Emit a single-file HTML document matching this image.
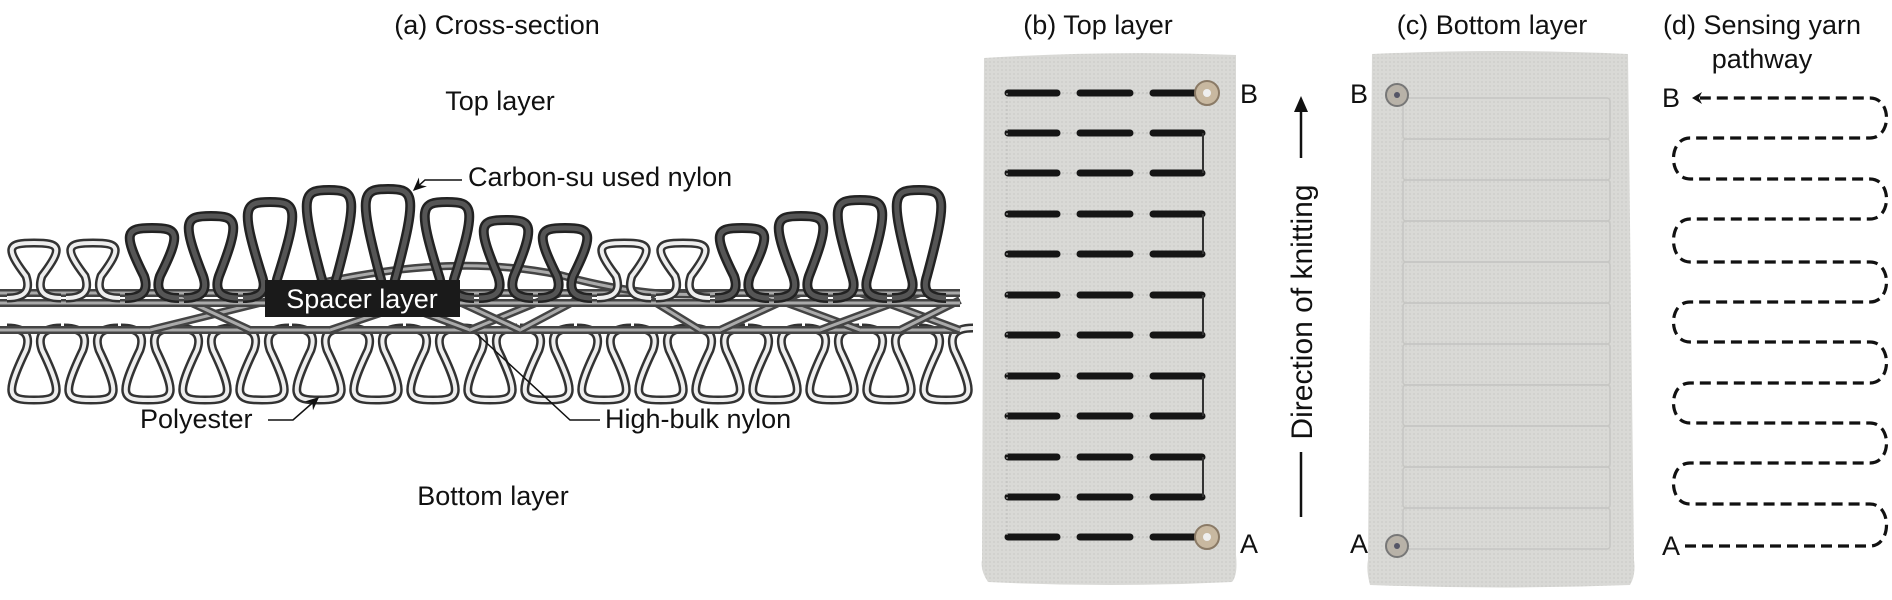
<!DOCTYPE html>
<html><head><meta charset="utf-8"><style>
html,body{margin:0;padding:0;background:#fff;}
svg{display:block;}
text{font-family:"Liberation Sans",sans-serif;fill:#111;}
</style></head><body>
<svg id="s" width="1892" height="600" viewBox="0 0 1892 600" xmlns="http://www.w3.org/2000/svg">
<defs>
<pattern id="knit" width="4" height="4" patternUnits="userSpaceOnUse">
<rect width="4" height="4" fill="#d9d9d6"/><circle cx="2" cy="2" r="1" fill="#cfcfcc"/>
</pattern>
<marker id="ah" markerWidth="10" markerHeight="10" refX="8" refY="5" orient="auto"><path d="M0,1 L9,5 L0,9 L3,5 Z" fill="#111"/></marker>
</defs>
<g id="a"></g>
<text x="497" y="34" font-size="27" text-anchor="middle">(a) Cross-section</text>
<text x="500" y="110" font-size="27" text-anchor="middle">Top layer</text>
<text x="468" y="186" font-size="27">Carbon-su used nylon</text>
<path d="M462,180 L425,180 L414,190" stroke="#111" stroke-width="1.5" fill="none" marker-end="url(#ah)"/>
<text x="493" y="505" font-size="27" text-anchor="middle">Bottom layer</text>
<text x="140" y="428" font-size="27">Polyester</text>
<path d="M268,420 L293,420 L318,398" stroke="#111" stroke-width="1.5" fill="none" marker-end="url(#ah)"/>
<text x="605" y="428" font-size="27">High-bulk nylon</text>
<path d="M600,420 L570,420 L478,335" stroke="#111" stroke-width="1.5" fill="none"/>

<text x="1098" y="34" font-size="27" text-anchor="middle">(b) Top layer</text>
<path d="M984,58 Q1110,50 1236,55 L1236,555 Q1238,575 1232,582 Q1110,588 988,582 Q980,570 982,560 Z" fill="url(#knit)"/>
<g id="b"></g>
<text x="1240" y="103" font-size="27">B</text>
<text x="1240" y="553" font-size="27">A</text>
<line x1="1301" y1="517" x2="1301" y2="452" stroke="#111" stroke-width="2.5"/>
<line x1="1301" y1="158" x2="1301" y2="108" stroke="#111" stroke-width="2.5"/>
<path d="M1294,112 L1301,96 L1308,112 Z" fill="#111"/>
<text transform="translate(1312,312) rotate(-90)" font-size="30" text-anchor="middle">Direction of knitting</text>

<text x="1492" y="34" font-size="27" text-anchor="middle">(c) Bottom layer</text>
<path d="M1372,54 Q1500,48 1628,54 L1634,560 Q1636,575 1630,585 Q1500,590 1370,585 Q1366,570 1368,560 Z" fill="url(#knit)"/>
<g id="c"></g>
<text x="1350" y="103" font-size="27">B</text>
<text x="1350" y="553" font-size="27">A</text>

<text x="1762" y="34" font-size="27" text-anchor="middle">(d) Sensing yarn</text>
<text x="1762" y="68" font-size="27" text-anchor="middle">pathway</text>
<text x="1662" y="107" font-size="27">B</text>
<text x="1662" y="555" font-size="27">A</text>
<path id="d" fill="none" stroke="#111" stroke-width="3.2" stroke-dasharray="11,6"/>
<path d="M1692,98 L1702,92 L1699,98 L1702,104 Z" fill="#111"/>
</svg>
<script>
var NS="http://www.w3.org/2000/svg";
function el(p,t,a){var e=document.createElementNS(NS,t);for(var k in a)e.setAttribute(k,a[k]);p.appendChild(e);return e;}
var A=document.getElementById('a');
function loop(cx,by,h,dir){var s=dir;
 return "M"+(cx-27)+","+by+" C"+(cx-6)+","+by+" "+(cx-4)+","+(by-s*10)+" "+(cx-8)+","+(by-s*22)+
 " C"+(cx-30)+","+(by-s*(h-4))+" "+(cx-26)+","+(by-s*h)+" "+cx+","+(by-s*h)+
 " C"+(cx+26)+","+(by-s*h)+" "+(cx+30)+","+(by-s*(h-4))+" "+(cx+8)+","+(by-s*22)+
 " C"+(cx+4)+","+(by-s*10)+" "+(cx+6)+","+by+" "+(cx+27)+","+by;}
function yarn(d,outer,inner,w){el(A,'path',{d:d,fill:'none',stroke:outer,'stroke-width':w});el(A,'path',{d:d,fill:'none',stroke:inner,'stroke-width':w-5});}
for(var i=0;i<17;i++){var cx=34+i*57;yarn(loop(cx,328,72,-1),'#333','#eee',9);}
yarn("M0,330 L960,330",'#444','#aaa',8);
var xs=[[150,330,300,293],[170,293,250,330],[330,330,440,293],[370,293,470,330],[520,330,590,293],[640,293,700,330],[560,293,470,330],[720,330,800,293],[760,293,860,330],[820,330,920,293],[860,293,960,330],[900,330,960,300],[440,293,520,330]];
xs.forEach(function(q){yarn("M"+q[0]+","+q[1]+" L"+q[2]+","+q[3],'#444','#aaa',8);});
yarn("M0,293 L960,293",'#444','#aaa',8);
yarn("M0,303 L960,303",'#444','#aaa',8);
yarn("M280,293 Q440,250 560,275 Q650,300 720,293",'#444','#aaa',8);
var pk=[243,243,228,216,202,190,189,202,220,228,243,243,228,216,200,190];
for(var i=0;i<16;i++){var cx=34+i*59;var dark=!(i<2||i==10||i==11);var h=298-pk[i];
 if(dark)yarn(loop(cx,298,h,1),'#222','#555',10);else yarn(loop(cx,298,h,1),'#333','#eee',9);}
el(A,'rect',{x:265,y:280,width:195,height:37,fill:'#1a1a1a'});
var t=el(A,'text',{x:362,y:308,'font-size':27,'text-anchor':'middle',style:'fill:#fff'});t.textContent='Spacer layer';
var B=document.getElementById('b');
var rows=[93,133,173,214,254,295,335,376,416,457,497,537];
var cols=[[1008,1057],[1080,1130],[1153,1202]];
rows.forEach(function(y){el(B,'line',{x1:1006,y1:y,x2:1205,y2:y,stroke:'#bdbdbb','stroke-width':1,'stroke-dasharray':'2,2'});
 cols.forEach(function(c){el(B,'line',{x1:c[0],y1:y,x2:c[1],y2:y,stroke:'#151515','stroke-width':7,'stroke-linecap':'round'});});});
for(var k=1;k<11;k+=2){el(B,'line',{x1:1203,y1:rows[k],x2:1203,y2:rows[k+1],stroke:'#333','stroke-width':2});}
el(B,'line',{x1:1007,y1:93,x2:1007,y2:537,stroke:'#bdbdbb','stroke-width':1,'stroke-dasharray':'2,2'});
[93,537].forEach(function(y){el(B,'circle',{cx:1207,cy:y,r:12,fill:'#c8b8a0',stroke:'#8a7a66','stroke-width':2});el(B,'circle',{cx:1207,cy:y,r:4,fill:'#eee'});});
var C=document.getElementById('c');
for(var k=0;k<11;k++){var y=98+k*41;el(C,'rect',{x:1403,y:y,width:207,height:41,fill:'none',stroke:'#c6c6c3','stroke-width':1.5,rx:3});}
[95,546].forEach(function(y){el(C,'circle',{cx:1397,cy:y,r:11,fill:'#b8b2a8',stroke:'#777','stroke-width':2});el(C,'circle',{cx:1397,cy:y,r:3,fill:'#556'});});
var ly=[98,138,179,219,262,302,342,383,423,463,504,546];
var L=1690,R=1870;
var dd="M1685,546 L"+R+",546";
for(var k=11;k>0;k--){var y1=ly[k],y0=ly[k-1];var right=((11-k)%2==0);
 if(right){dd+=" C"+(R+22)+","+y1+" "+(R+22)+","+y0+" "+R+","+y0+" L"+L+","+y0;}
 else{dd+=" C"+(L-22)+","+y1+" "+(L-22)+","+y0+" "+L+","+y0+" L"+R+","+y0;}}
dd=dd.replace(/L1690,98$/,"L1700,98");
document.getElementById('d').setAttribute('d',dd);
</script>
</body></html>
